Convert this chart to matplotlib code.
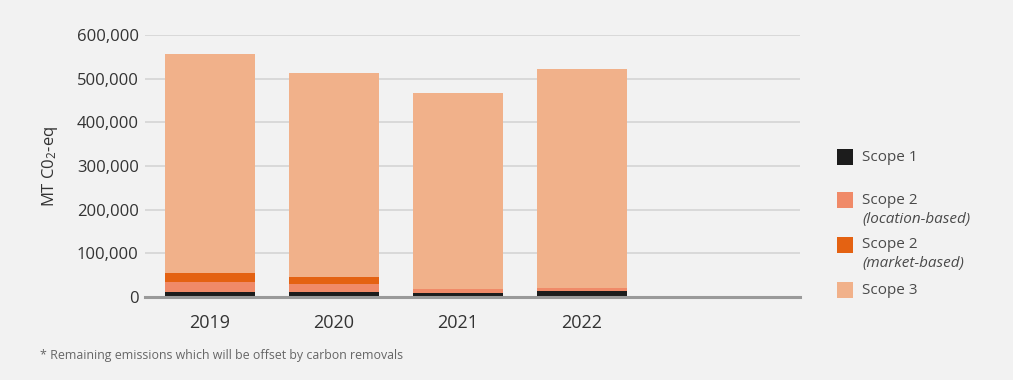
import matplotlib
matplotlib.use("Agg")
import matplotlib.pyplot as plt
from matplotlib.patches import Rectangle
from matplotlib.ticker import FuncFormatter
import numpy as np

plt.rcParams['font.family'] = ['Open Sans', 'DejaVu Sans']
plt.rcParams['mathtext.default'] = 'regular'

years = ["2019", "2020", "2021", "2022"]
scope1 = [11500, 11500, 9000, 13800]
scope2_location = [23000, 18300, 9000, 7000]
scope2_market = [20600, 16000, 0, 0]
scope3 = [502000, 468000, 450000, 502000]

series_labels = ["Scope 1", "Scope 2", "Scope 2", "Scope 3"]
series_sub = [None, "(location-based)", "(market-based)", None]
colors = ["#1c1c1c", "#f08a68", "#e46212", "#f1b18a"]

yticks = [0, 100000, 200000, 300000, 400000, 500000, 600000]

BG = "#f2f2f2"
W, H = 1013, 380
fig = plt.figure(figsize=(W / 100, H / 100), dpi=100, facecolor=BG)
ax = fig.add_axes([145 / W, 1 - 297 / H, (800 - 145) / W, (297 - 35) / H])
ax.set_facecolor(BG)

x = np.arange(len(years))
bottom = np.zeros(len(years))
for vals, c in zip([scope1, scope2_location, scope2_market, scope3], colors):
    ax.bar(x, vals, bottom=bottom, width=0.726, color=c, zorder=3, linewidth=0)
    bottom += np.array(vals)

ax.set_xlim(-0.524, 4.76)
ax.set_ylim(0, 600000)
ax.set_yticks(yticks)
ax.yaxis.set_major_formatter(FuncFormatter(lambda v, p: f"{int(v):,}"))
ax.set_xticks(x)
ax.set_xticklabels(years)
ax.grid(axis='y', color='#d4d4d4', linewidth=1.2, zorder=0)
for s in ['top', 'right', 'left']:
    ax.spines[s].set_visible(False)
ax.spines['bottom'].set_color('#9a9a9a')
ax.spines['bottom'].set_linewidth(2.2)
ax.spines['bottom'].set_zorder(4)
ax.tick_params(axis='both', length=0, colors='#333333')
ax.tick_params(axis='y', pad=4.5, labelsize=12)
ax.tick_params(axis='x', pad=12, labelsize=13)
ax.set_ylabel("MT C0$_2$-eq", fontsize=12, color='#333333', labelpad=12)

# legend
entries = [(149, 157, None), (192, 200, 219), (237, 245, 264), (282, 290, None)]
for (ytop, ytext, ysub), lab, sub, c in zip(entries, series_labels, series_sub, colors):
    fig.patches.append(Rectangle((837 / W, 1 - (ytop + 16) / H), 16 / W, 16 / H,
                                 transform=fig.transFigure, facecolor=c, edgecolor='none'))
    fig.text(862 / W, 1 - ytext / H, lab, fontsize=11, color='#4a4a4a', va='center', ha='left')
    if sub:
        fig.text(862 / W, 1 - ysub / H, sub, fontsize=11, color='#4a4a4a', va='center',
                 ha='left', style='italic')

fig.text(40 / W, 1 - 355 / H, "* Remaining emissions which will be offset by carbon removals",
         fontsize=8.9, color='#666666', va='center', ha='left')

fig.savefig("out.png", dpi=100, facecolor=BG)
